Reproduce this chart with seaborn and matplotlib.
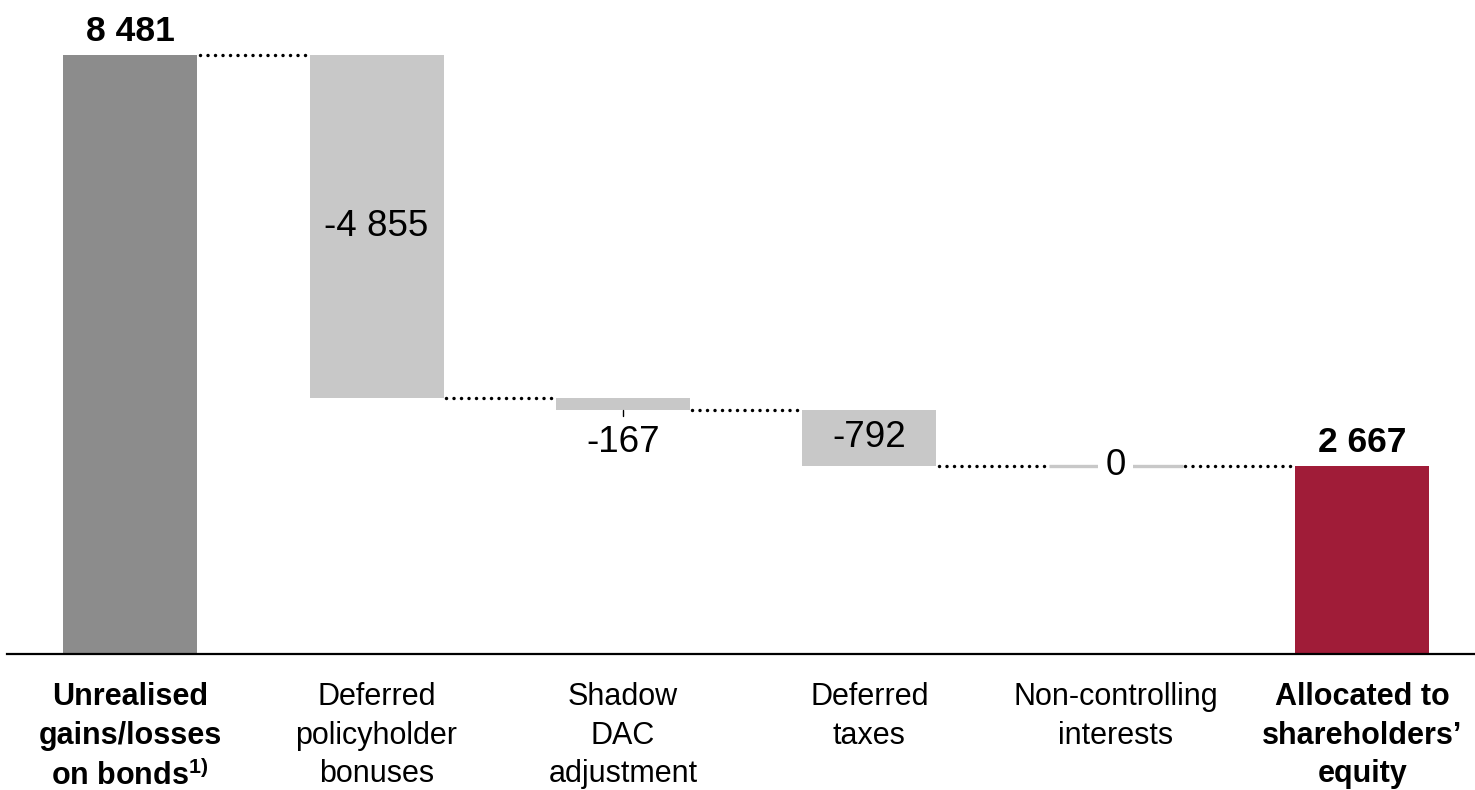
import matplotlib
matplotlib.use("Agg")
import matplotlib.pyplot as plt
import seaborn as sns
import numpy as np

# ---- data ----
categories = ["Unrealised gains/losses on bonds", "Deferred policyholder bonuses",
              "Shadow DAC adjustment", "Deferred taxes",
              "Non-controlling interests", "Allocated to shareholders' equity"]
tick_labels = ["Unrealised\ngains/losses\non bonds$^{\\mathbf{1)}}$",
               "Deferred\npolicyholder\nbonuses",
               "Shadow\nDAC\nadjustment",
               "Deferred\ntaxes",
               "Non-controlling\ninterests",
               "Allocated to\nshareholders\u2019\nequity"]
values = [8481, -4855, -167, -792, 0, 2667]
value_labels = ["8 481", "-4 855", "-167", "-792", "0", "2 667"]
kinds = ["total", "delta", "delta", "delta", "delta", "total"]

# ---- derived waterfall geometry ----
bottoms, heights, levels = [], [], []
running = 0
for v, k in zip(values, kinds):
    if k == "total":
        bottoms.append(0)
        heights.append(v)
        running = v
    else:
        new = running + v
        bottoms.append(min(running, new))
        heights.append(abs(v))
        running = new
    levels.append(running)

colors = {"first": "#8C8C8C", "delta": "#C8C8C8", "last": "#A01C38"}
bar_colors = [colors["first"]] + [colors["delta"]] * 4 + [colors["last"]]

sns.set_theme(style="white")
plt.rcParams["font.family"] = ["Liberation Sans", "DejaVu Sans"]
plt.rcParams["text.color"] = "black"
plt.rcParams["xtick.color"] = "black"
plt.rcParams["mathtext.fontset"] = "custom"
plt.rcParams["mathtext.rm"] = "Liberation Sans"
plt.rcParams["mathtext.bf"] = "Liberation Sans:bold"

fig = plt.figure(figsize=(14.75, 7.9), dpi=100)
ax = fig.add_axes([7 / 1475, 136 / 790, 1468 / 1475, 636 / 790])

W = 0.544
sns.barplot(x=categories, y=heights, bottom=bottoms, width=W, saturation=1,
            color="#C8C8C8", ax=ax, linewidth=0)
for p, c in zip(ax.patches, bar_colors):
    p.set_facecolor(c)
    p.set_edgecolor(c)

ax.set_xlim(-0.5, 5.458)
ax.set_ylim(0, 9000)

# connectors
for i in range(len(values) - 1):
    y = levels[i]
    ax.plot([i + W / 2 + 0.01, i + 1 - W / 2 - 0.01], [y, y], color="black", lw=2.5,
            linestyle=(0, (0.01, 2.15)), dash_capstyle="round", zorder=3)

# zero bar line
for i, v in enumerate(values):
    if v == 0 and kinds[i] == "delta":
        ax.plot([i - W / 2, i + W / 2], [levels[i], levels[i]], color="#C8C8C8",
                lw=2.4, solid_capstyle="butt", zorder=2)

# small tick under shadow DAC bar
ax.plot([2, 2], [bottoms[2], bottoms[2] - 90], color="black", lw=1.0, zorder=3)

# value labels
for i, (v, lab, k) in enumerate(zip(values, value_labels, kinds)):
    top = bottoms[i] + heights[i]
    if k == "total":
        ax.annotate(lab, (i, top), xytext=(0, 5), textcoords="offset points",
                    ha="center", va="bottom", fontsize=25.5, fontweight="bold")
    elif v == 0:
        ax.text(i, levels[i], lab, ha="center", va="center", fontsize=26.5,
                bbox=dict(boxstyle="square,pad=0.2", facecolor="white",
                          edgecolor="none"), zorder=4)
    elif heights[i] > 500:
        ax.text(i, bottoms[i] + heights[i] / 2, lab, ha="center", va="center",
                fontsize=26.5)
    else:
        ax.annotate(lab, (i, bottoms[i]), xytext=(0, -11), textcoords="offset points",
                    ha="center", va="top", fontsize=26.5)

# axes styling
for s in ["top", "right", "left"]:
    ax.spines[s].set_visible(False)
ax.spines["bottom"].set_color("black")
ax.spines["bottom"].set_linewidth(1.6)
ax.set_yticks([])
ax.set_xticks(range(len(categories)))
ax.set_xticklabels(tick_labels, fontsize=22, linespacing=1.38)
ax.tick_params(axis="x", length=0, pad=20, colors="black")
labels = ax.get_xticklabels()
labels[0].set_fontweight("bold")
labels[-1].set_fontweight("bold")
ax.set_xlabel("")
ax.set_ylabel("")

fig.savefig("out.png", dpi=100)
